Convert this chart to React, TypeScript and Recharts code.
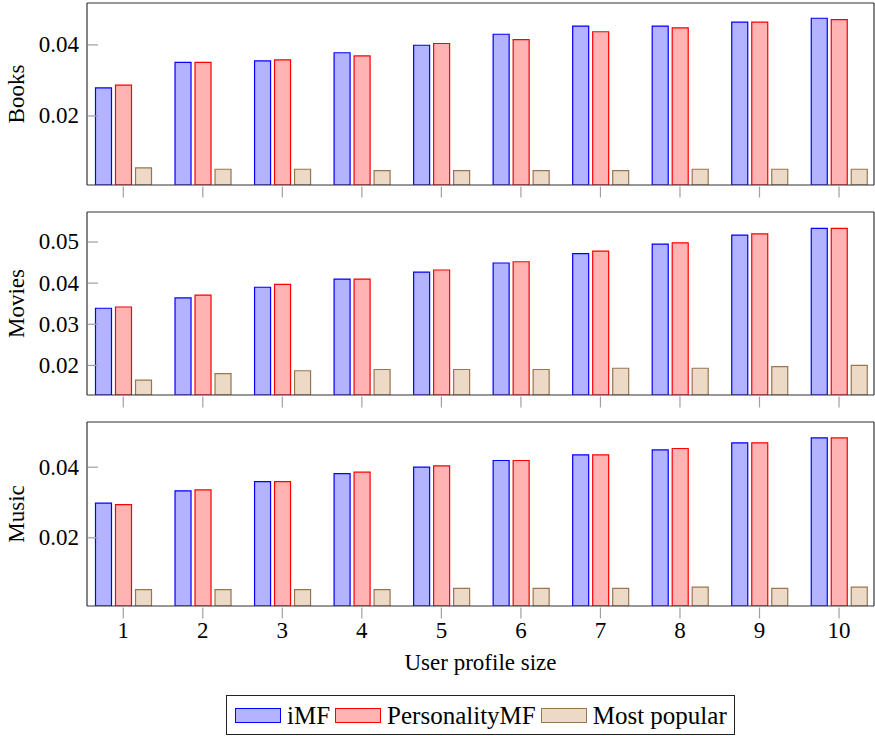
import { BarChart, Bar, XAxis, YAxis } from "recharts";

const FONT = "Liberation Serif";

// profile sizes on the x axis
const profileSizes = ["1", "2", "3", "4", "5", "6", "7", "8", "9", "10"];

const seriesNames = ["iMF", "PersonalityMF", "Most popular"];

const booksIMF = [0.0279, 0.0351, 0.0355, 0.0378, 0.0399, 0.043, 0.0453, 0.0453, 0.0464, 0.0475];
const booksPersonality = [0.0287, 0.0351, 0.0358, 0.0369, 0.0404, 0.0415, 0.0437, 0.0448, 0.0464, 0.0471];
const booksPopular = [0.0054, 0.005, 0.005, 0.0046, 0.0046, 0.0046, 0.0046, 0.005, 0.005, 0.005];

const moviesIMF = [0.0339, 0.0364, 0.039, 0.041, 0.0427, 0.0449, 0.0472, 0.0495, 0.0517, 0.0533];
const moviesPersonality = [0.0342, 0.0371, 0.0397, 0.041, 0.0432, 0.0452, 0.0478, 0.0498, 0.052, 0.0533];
const moviesPopular = [0.0164, 0.018, 0.0187, 0.019, 0.019, 0.019, 0.0193, 0.0193, 0.0197, 0.02];

const musicIMF = [0.0298, 0.0333, 0.0359, 0.0382, 0.04, 0.0419, 0.0435, 0.0449, 0.0469, 0.0483];
const musicPersonality = [0.0294, 0.0336, 0.0359, 0.0386, 0.0404, 0.0419, 0.0435, 0.0453, 0.0469, 0.0483];
const musicPopular = [0.0053, 0.0053, 0.0053, 0.0053, 0.0057, 0.0057, 0.0057, 0.006, 0.0057, 0.006];

const booksTicks = [0.02, 0.04];
const moviesTicks = [0.02, 0.03, 0.04, 0.05];
const musicTicks = [0.02, 0.04];

const COLORS = [
  { fill: "#b3b3ff", stroke: "#0000ff" },
  { fill: "#ffb3b3", stroke: "#ff0000" },
  { fill: "#ecd9c6", stroke: "#9a7650" },
];

const FRAME = { stroke: "#333", strokeWidth: 1.2 };
const TICK_GRAY = "#a0a0a0";
const TEXT = "#000";

const buildRows = (a: number[], b: number[], c: number[]) =>
  profileSizes.map((size, i) => ({ size, imf: a[i], pers: b[i], pop: c[i] }));

const renderYTick = (props: any) => {
  const { x, y, payload } = props;
  return (
    <g>
      <line x1={x + 9} x2={x + 19} y1={y} y2={y} stroke={TICK_GRAY} strokeWidth={1.2} />
      <text x={x} y={y} dy="0.32em" textAnchor="end" fontFamily={FONT} fontSize={23} fill={TEXT}>
        {Number(payload.value).toFixed(2)}
      </text>
    </g>
  );
};

const makeXTick = (showLabel: boolean) => (props: any) => {
  const { x, y, payload } = props;
  return (
    <g>
      <line x1={x} x2={x} y1={y + 1.5} y2={y + 12.5} stroke={TICK_GRAY} strokeWidth={1.2} />
      {showLabel && (
        <text x={x} y={y + 32} textAnchor="middle" fontFamily={FONT} fontSize={23} fill={TEXT}>
          {payload.value}
        </text>
      )}
    </g>
  );
};

const sideLabel = (name: string) => (props: any) => {
  const vb = props.viewBox;
  const cy = vb.y + vb.height / 2;
  return (
    <text
      x={24}
      y={cy}
      transform={`rotate(-90 24 ${cy})`}
      textAnchor="middle"
      fontFamily={FONT}
      fontSize={23}
      fill={TEXT}
    >
      {name}
    </text>
  );
};

const xTitle = (props: any) => {
  const vb = props.viewBox;
  return (
    <text x={vb.x + vb.width / 2} y={vb.y + 64} textAnchor="middle" fontFamily={FONT} fontSize={23} fill={TEXT}>
      User profile size
    </text>
  );
};

interface PanelProps {
  name: string;
  rows: any[];
  domain: [number, number];
  ticks: number[];
  top: number;
  height: number;
  marginTop: number;
  marginBottom: number;
  bottomPanel?: boolean;
}

// each axis takes 1px, margins are trimmed so the frame lands where the reference has it
const Panel = ({ name, rows, domain, ticks, top, height, marginTop, marginBottom, bottomPanel }: PanelProps) => (
  <div style={{ position: "absolute", left: 0, top }}>
    <BarChart
      width={875}
      height={height}
      data={rows}
      margin={{ top: marginTop - 1, right: 0, bottom: marginBottom - 1, left: 0 }}
      barSize={16}
      barGap={4}
    >
      <XAxis
        dataKey="size"
        height={1}
        interval={0}
        padding={{ left: -3.5, right: -4.8 }}
        axisLine={FRAME}
        tickLine={false}
        tickSize={0}
        tickMargin={0}
        tick={makeXTick(!!bottomPanel)}
        label={bottomPanel ? { content: xTitle } : undefined}
      />
      <XAxis xAxisId="top" orientation="top" dataKey="size" height={1} axisLine={FRAME} tick={false} tickLine={false} />
      <YAxis
        width={87}
        type="number"
        domain={domain}
        allowDataOverflow
        ticks={ticks}
        axisLine={FRAME}
        tickLine={false}
        tickSize={0}
        tickMargin={8}
        tick={renderYTick}
        label={{ content: sideLabel(name) }}
      />
      <YAxis yAxisId="right" orientation="right" width={1} axisLine={FRAME} tick={false} tickLine={false} />
      <Bar dataKey="imf" name={seriesNames[0]} fill={COLORS[0].fill} stroke={COLORS[0].stroke} strokeWidth={1.2} isAnimationActive={false} />
      <Bar dataKey="pers" name={seriesNames[1]} fill={COLORS[1].fill} stroke={COLORS[1].stroke} strokeWidth={1.2} isAnimationActive={false} />
      <Bar dataKey="pop" name={seriesNames[2]} fill={COLORS[2].fill} stroke={COLORS[2].stroke} strokeWidth={1.2} isAnimationActive={false} />
    </BarChart>
  </div>
);

const LegendBox = () => (
  <div
    style={{
      position: "absolute",
      left: 226,
      top: 695,
      width: 509,
      height: 40,
      border: "1.3px solid #222",
      boxSizing: "border-box",
      display: "flex",
      alignItems: "center",
      paddingLeft: 8,
      fontFamily: FONT,
      fontSize: 25,
      color: TEXT,
    }}
  >
    {seriesNames.map((n, i) => (
      <div key={n} style={{ display: "flex", alignItems: "center", marginRight: 5 }}>
        <div
          style={{
            width: 44,
            height: 13,
            background: COLORS[i].fill,
            border: `1.5px solid ${COLORS[i].stroke}`,
            marginRight: 6,
          }}
        />
        <span style={{ lineHeight: "25px" }}>{n}</span>
      </div>
    ))}
  </div>
);

export default function App() {
  return (
    <div style={{ position: "absolute", left: 0, top: 0, width: 875, height: 736, background: "#fff" }}>
      <Panel
        name="Books"
        rows={buildRows(booksIMF, booksPersonality, booksPopular)}
        domain={[0.00056, 0.0518]}
        ticks={booksTicks}
        top={0}
        height={200}
        marginTop={3}
        marginBottom={15}
      />
      <Panel
        name="Movies"
        rows={buildRows(moviesIMF, moviesPersonality, moviesPopular)}
        domain={[0.0128, 0.0573]}
        ticks={moviesTicks}
        top={200}
        height={210}
        marginTop={12}
        marginBottom={15}
      />
      <Panel
        name="Music"
        rows={buildRows(musicIMF, musicPersonality, musicPopular)}
        domain={[0.00068, 0.0528]}
        ticks={musicTicks}
        top={410}
        height={280}
        marginTop={12}
        marginBottom={84}
        bottomPanel
      />
      <LegendBox />
    </div>
  );
}
